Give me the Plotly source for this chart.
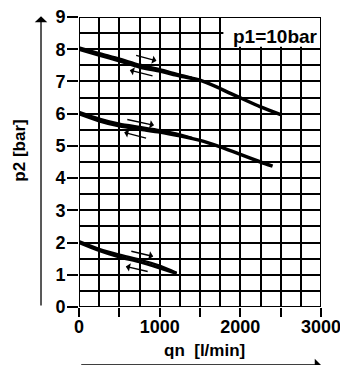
import plotly.graph_objects as go

# flow (l/min) and outlet pressure (bar), p1 = 10 bar
top_q = [0, 250, 500, 750, 1000, 1250, 1500, 1750, 2000, 2250, 2500]
top_p = [8.0, 7.82, 7.64, 7.45, 7.32, 7.17, 7.04, 6.78, 6.49, 6.21, 5.97]
top_q_ret = [0, 250, 500, 750, 1000, 1250, 1400]
top_p_ret = [8.05, 7.87, 7.7, 7.51, 7.37, 7.2, 7.11]

mid_q = [0, 250, 500, 750, 1000, 1250, 1500, 1750, 2000, 2250, 2400]
mid_p = [6.0, 5.78, 5.62, 5.52, 5.43, 5.31, 5.17, 4.97, 4.74, 4.5, 4.37]
mid_q_ret = [0, 250, 500, 750, 1000, 1250, 1400]
mid_p_ret = [6.05, 5.84, 5.68, 5.58, 5.48, 5.35, 5.24]

low_q = [0, 250, 500, 750, 1000, 1210]
low_p = [2.0, 1.75, 1.55, 1.4, 1.21, 1.04]
low_q_ret = [0, 250, 500, 750, 1000, 1210]
low_p_ret = [2.04, 1.8, 1.62, 1.47, 1.28, 1.06]

# hysteresis arrows: (q_tail, p_tail, q_head, p_head)
arrows = [
    (690, 7.82, 960, 7.64),
    (930, 7.16, 630, 7.35),
    (580, 5.83, 930, 5.64),
    (850, 5.23, 560, 5.42),
    (630, 1.74, 920, 1.57),
    (870, 1.09, 580, 1.26),
]

x_ticks = [0, 500, 1000, 1500, 2000, 2500, 3000]
x_labels = ['0', '', '1000', '', '2000', '', '3000']
y_ticks = list(range(10))

FONT = 'Liberation Sans'

fig = go.Figure()

for q, p, w in [(top_q, top_p, 3.5), (top_q_ret, top_p_ret, 3),
                (mid_q, mid_p, 3.5), (mid_q_ret, mid_p_ret, 3),
                (low_q, low_p, 3), (low_q_ret, low_p_ret, 2.5)]:
    fig.add_trace(go.Scatter(
        x=q, y=p, mode='lines',
        line=dict(color='black', width=w, shape='spline', smoothing=0.6),
        showlegend=False, hoverinfo='skip',
    ))

# small direction arrows on the curves
for q0, p0, q1, p1 in arrows:
    fig.add_annotation(
        x=q1, y=p1, ax=q0, ay=p0, xref='x', yref='y', axref='x', ayref='y',
        text='', showarrow=True, arrowhead=1, arrowsize=1.0,
        arrowwidth=1.4, arrowcolor='black', standoff=0,
    )

# white box behind the p1 label, then the frame on top
fig.add_shape(type='rect', x0=1790, x1=3000, y0=8.08, y1=9,
              fillcolor='white', line_width=0, layer='above')
fig.add_shape(type='rect', x0=0, x1=3000, y0=0, y1=9,
              line=dict(color='black', width=2), layer='above')
fig.add_annotation(x=2990, y=8.38, xref='x', yref='y', text='p1=10bar',
                   showarrow=False, xanchor='right', yanchor='middle',
                   font=dict(family=FONT, size=19, color='black', weight='bold'))

# axis titles
fig.add_annotation(x=-0.247, y=0.54, xref='paper', yref='paper',
                   xanchor='center', yanchor='middle',
                   text='p2 [bar]', textangle=-90, showarrow=False,
                   font=dict(family=FONT, size=17, color='black', weight='bold'))
fig.add_annotation(x=0.52, y=-0.149, xref='paper', yref='paper',
                   xanchor='center', yanchor='middle',
                   text='qn  [l/min]', showarrow=False,
                   font=dict(family=FONT, size=17, color='black', weight='bold'))

# long axis arrows
fig.add_annotation(x=-0.157, y=1.003, ax=-0.157, ay=0,
                   xref='x domain', yref='y domain',
                   axref='x domain', ayref='y domain',
                   text='', showarrow=True, arrowhead=1, arrowsize=1.6,
                   arrowwidth=1.3, arrowcolor='black', standoff=0)
fig.add_annotation(x=1.0, y=-0.2, ax=0.003, ay=-0.2,
                   xref='x domain', yref='y domain',
                   axref='x domain', ayref='y domain',
                   text='', showarrow=True, arrowhead=1, arrowsize=1.6,
                   arrowwidth=1.3, arrowcolor='black', standoff=0)

fig.update_xaxes(
    range=[0, 3000], tickvals=x_ticks, ticktext=x_labels,
    ticks='outside', ticklen=9, tickwidth=2, tickcolor='black',
    ticklabelstandoff=-6, ticklabeloverflow='allow',
    showgrid=True, gridcolor='black', gridwidth=2,
    minor=dict(dtick=250, showgrid=True, gridcolor='black', gridwidth=2),
    zeroline=False, showline=False, automargin=False,
    tickfont=dict(family=FONT, size=18, color='black', weight='bold'),
)
fig.update_yaxes(
    range=[0, 9], tickvals=y_ticks,
    ticks='outside', ticklen=11, tickwidth=2, tickcolor='black',
    ticklabelstandoff=-2, ticklabeloverflow='allow',
    showgrid=True, gridcolor='black', gridwidth=2,
    minor=dict(dtick=0.5, showgrid=True, gridcolor='black', gridwidth=2),
    zeroline=False, showline=False, automargin=False,
    tickfont=dict(family=FONT, size=18, color='black', weight='bold'),
)

# the page puts the plot 8px in from the corner, so margins allow for it
fig.update_layout(
    width=348, height=365,
    margin=dict(l=71, r=35, t=9, b=66),
    paper_bgcolor='white', plot_bgcolor='white',
)

fig.write_html('out.html')
